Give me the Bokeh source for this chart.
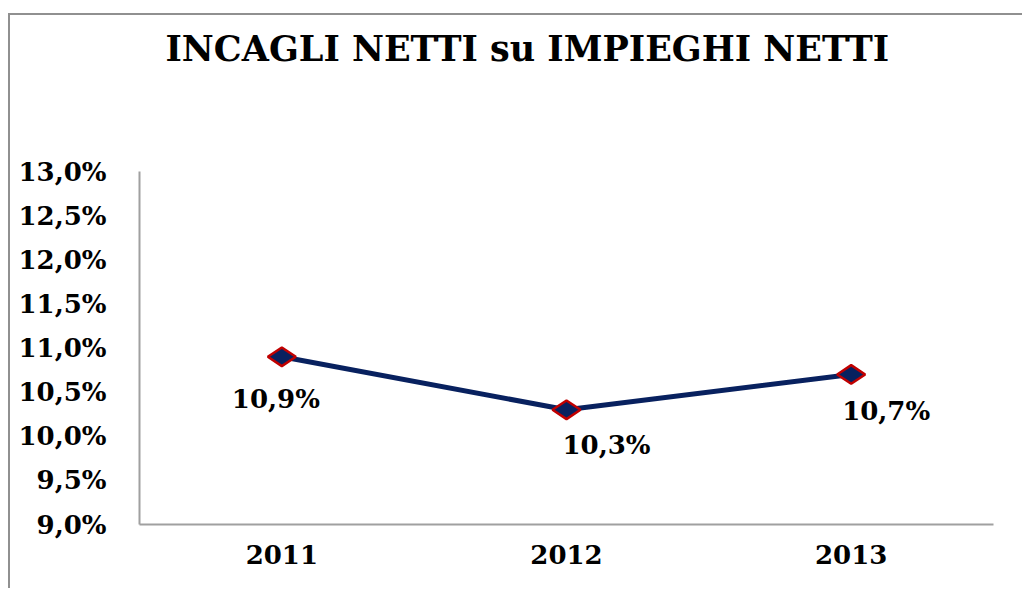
from bokeh.plotting import figure
from bokeh.models import ColumnDataSource, LabelSet, Title, FixedTicker, CustomJSTickFormatter
from bokeh.core.properties import value
from bokeh.embed import file_html
from bokeh.resources import INLINE

title_text = "INCAGLI NETTI su IMPIEGHI NETTI"
years = ["2011", "2012", "2013"]
values = [10.9, 10.3, 10.7]
value_labels = ["10,9%", "10,3%", "10,7%"]
y_ticks = [9.0, 9.5, 10.0, 10.5, 11.0, 11.5, 12.0, 12.5, 13.0]

# label placement (screen px), kept apart from the data
label_dx = [-6, 40, 35]
label_dy = [-42, -35, -37]

FONT = "DejaVu Serif"
NAVY = "#08215f"

src = ColumnDataSource(dict(x=years, y=values, lab=value_labels, dx=label_dx, dy=label_dy))

p = figure(width=1014, height=575, x_range=years, y_range=(9.0, 13.0),
           output_backend="svg", toolbar_location=None)
p.styles = {"border-left": "2px solid #909090", "border-top": "2px solid #909090",
            "margin-left": "8px", "margin-top": "13px"}
p.min_border_left = 129
p.min_border_right = 31
p.min_border_top = 156
p.min_border_bottom = 66
p.outline_line_color = None
p.background_fill_color = "white"
p.border_fill_color = "white"

# spacer panel between the frame and the title
p.add_layout(Title(text=" ", text_font_size="10px", standoff=90), "above")
p.add_layout(Title(text=title_text, text_font=FONT, text_font_style="bold",
                   text_font_size="35px", text_color="black", align="left",
                   offset=26, standoff=0), "above")

p.xgrid.grid_line_color = None
p.ygrid.grid_line_color = None

for ax in (p.xaxis, p.yaxis):
    ax.axis_line_color = "#a0a0a0"
    ax.axis_line_width = 2
    ax.major_tick_line_color = None
    ax.minor_tick_line_color = None
    ax.major_tick_out = 0
    ax.major_tick_in = 0
    ax.major_label_text_font = FONT
    ax.major_label_text_font_style = "bold"
    ax.major_label_text_font_size = "26px"
    ax.major_label_text_color = "black"

p.yaxis.ticker = FixedTicker(ticks=y_ticks)
p.yaxis.formatter = CustomJSTickFormatter(code="return tick.toFixed(1).replace('.', ',') + '%';")
p.yaxis.major_label_standoff = 33
p.xaxis.major_label_standoff = 20

p.line("x", "y", source=src, line_color=NAVY, line_width=5)
p.scatter("x", "y", source=src, marker="diamond", size=28, angle=1.5708,
          fill_color=NAVY, line_color="#c00000", line_width=2.5)

labels = LabelSet(x="x", y="y", text="lab", source=src, x_offset="dx", y_offset="dy",
                  text_font=value(FONT), text_font_style="bold", text_font_size="26px",
                  text_align="center", text_baseline="middle", text_color="black")
p.add_layout(labels)

open("out.html", "w").write(file_html(p, INLINE))
